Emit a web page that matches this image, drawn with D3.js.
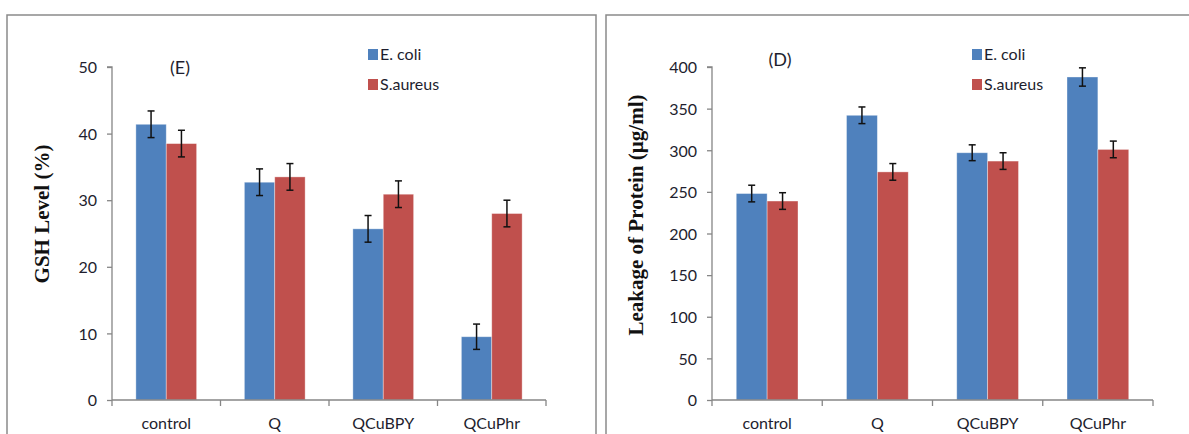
<!DOCTYPE html>
<html>
<head>
<meta charset="utf-8">
<script src="https://cdn.jsdelivr.net/npm/d3@7"></script>
<style>
  html, body { margin: 0; padding: 0; background: #fff; }
  svg { display: block; }
  .tick text { font-family: Lato, "Open Sans", sans-serif; font-size: 16px; fill: #1e1e2e; }
</style>
</head>
<body>
<svg id="chart" width="1189" height="434"></svg>
<script>
// Treatments shared by both panels
const categories = ["control", "Q", "QCuBPY", "QCuPhr"];
const seriesNames = ["E. coli", "S.aureus"];
const seriesColors = ["#4F81BD", "#C0504D"];

// Panel (E): GSH level (%)
const gshEcoli = [41.4, 32.7, 25.7, 9.5];
const gshSaureus = [38.5, 33.5, 30.9, 28.0];
const gshEcoliErr = [2.0, 2.0, 2.0, 1.9];
const gshSaureusErr = [2.0, 2.0, 2.0, 2.0];
const gshTicks = [0, 10, 20, 30, 40, 50];

// Panel (D): protein leakage (µg/ml)
const protEcoli = [248, 342, 297, 388];
const protSaureus = [239, 274, 287, 301];
const protEcoliErr = [10, 10, 9.5, 11];
const protSaureusErr = [10, 10, 10, 10];
const protTicks = [0, 50, 100, 150, 200, 250, 300, 350, 400];

const svg = d3.select("#chart");

function drawPanel(cfg) {
  const g = svg.append("g");

  // outer frame
  g.append("rect")
    .attr("x", cfg.frame[0]).attr("y", cfg.frame[1])
    .attr("width", cfg.frame[2]).attr("height", cfg.frame[3])
    .attr("fill", "none").attr("stroke", "#8a8a8a").attr("stroke-width", 1.5);

  const x = d3.scaleBand().domain(categories)
    .range([cfg.left, cfg.right]).paddingInner(0.44).paddingOuter(0.22);
  const xs = d3.scaleBand().domain(seriesNames).range([0, x.bandwidth()]);
  const y = d3.scaleLinear().domain([0, d3.max(cfg.ticks)]).range([cfg.bottom, cfg.top]);

  // y axis
  const yAxis = g.append("g").attr("transform", `translate(${cfg.left},0)`)
    .call(d3.axisLeft(y).tickValues(cfg.ticks).tickSize(5).tickPadding(10).tickFormat(d3.format("d")));
  yAxis.selectAll("line, path").attr("stroke", "#868686").attr("stroke-width", 1.3);
  yAxis.select(".domain").attr("d", `M-5,${cfg.top}H0V${cfg.bottom}`);
  yAxis.selectAll(".tick text").attr("dy", "0.36em");

  // bars
  const rows = categories.map((c, i) => ({
    cat: c,
    vals: [
      { s: seriesNames[0], v: cfg.s1[i], e: cfg.e1[i], color: seriesColors[0] },
      { s: seriesNames[1], v: cfg.s2[i], e: cfg.e2[i], color: seriesColors[1] }
    ]
  }));
  const grp = g.selectAll(".grp").data(rows).join("g")
    .attr("transform", d => `translate(${x(d.cat)},0)`);
  grp.selectAll("rect").data(d => d.vals).join("rect")
    .attr("x", d => xs(d.s)).attr("width", xs.bandwidth())
    .attr("y", d => y(d.v)).attr("height", d => y(0) - y(d.v))
    .attr("fill", d => d.color)
    .attr("stroke", "rgba(255,255,255,0.45)").attr("stroke-width", 0.8);

  // error bars
  const cap = 3.5;
  const eb = grp.selectAll(".eb").data(d => d.vals).join("g")
    .attr("transform", d => `translate(${xs(d.s) + xs.bandwidth() / 2},0)`)
    .attr("stroke", "#111").attr("stroke-width", 1.5);
  eb.append("line").attr("y1", d => y(d.v + d.e)).attr("y2", d => y(d.v - d.e));
  eb.append("line").attr("x1", -cap).attr("x2", cap).attr("y1", d => y(d.v + d.e)).attr("y2", d => y(d.v + d.e));
  eb.append("line").attr("x1", -cap).attr("x2", cap).attr("y1", d => y(d.v - d.e)).attr("y2", d => y(d.v - d.e));

  // x axis: baseline with boundary ticks, labels centred in each category
  const xAxis = g.append("g").attr("transform", `translate(0,${cfg.bottom})`)
    .call(d3.axisBottom(x).tickSize(0).tickPadding(18));
  xAxis.select(".domain").attr("stroke", "#868686").attr("stroke-width", 1.3)
    .attr("d", `M${cfg.left},0H${cfg.right}`);
  const bounds = d3.range(categories.length + 1).map(i => cfg.left + i * x.step());
  xAxis.selectAll(".bound").data(bounds).join("line").attr("class", "bound")
    .attr("x1", d => d).attr("x2", d => d).attr("y1", 0).attr("y2", 6)
    .attr("stroke", "#868686").attr("stroke-width", 1.3);

  // panel letter
  g.append("text").attr("x", cfg.letterPos[0]).attr("y", cfg.letterPos[1])
    .attr("text-anchor", "middle")
    .style("font-family", "Lato, sans-serif").style("font-size", "18px").attr("fill", "#1e1e2e")
    .text(cfg.letter);

  // legend
  const lg = g.append("g").attr("transform", `translate(${cfg.legend[0]},${cfg.legend[1]})`);
  seriesNames.forEach((name, i) => {
    lg.append("rect").attr("x", 0).attr("y", i * 30).attr("width", 10).attr("height", 11)
      .attr("fill", seriesColors[i]);
    lg.append("text").attr("x", 12).attr("y", i * 30 + 11)
      .style("font-family", "Lato, sans-serif").style("font-size", "16px").attr("fill", "#1e1e2e")
      .text(name);
  });

  // y axis title
  g.append("text")
    .attr("transform", `translate(${cfg.titlePos[0]},${cfg.titlePos[1]}) rotate(-90)`)
    .attr("text-anchor", "middle")
    .style("font-family", "'Liberation Serif', 'Times New Roman', serif")
    .style("font-size", "21px").style("font-weight", "bold").attr("fill", "#111")
    .text(cfg.title);
}

drawPanel({
  frame: [7, 15, 589, 440],
  left: 112, right: 546, top: 67, bottom: 400,
  ticks: gshTicks,
  s1: gshEcoli, s2: gshSaureus, e1: gshEcoliErr, e2: gshSaureusErr,
  letter: "(E)", letterPos: [180, 74],
  legend: [368, 49],
  title: "GSH Level (%)", titlePos: [49, 214]
});

drawPanel({
  frame: [606, 15, 600, 440],
  left: 712, right: 1153, top: 67, bottom: 400,
  ticks: protTicks,
  s1: protEcoli, s2: protSaureus, e1: protEcoliErr, e2: protSaureusErr,
  letter: "(D)", letterPos: [780, 66],
  legend: [972, 49],
  title: "Leakage of Protein (µg/ml)", titlePos: [643, 215]
});
</script>
</body>
</html>
